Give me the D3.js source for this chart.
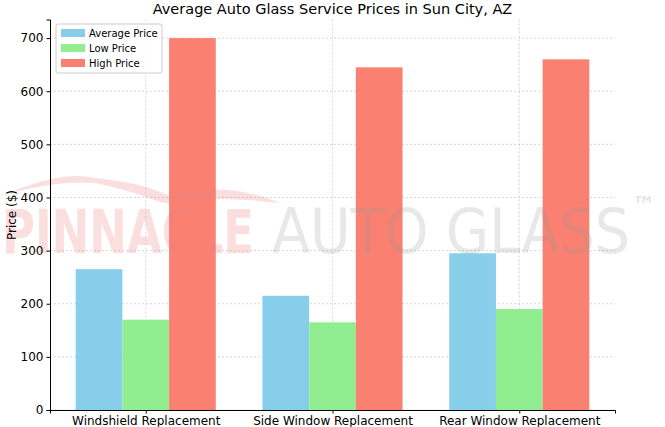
<!DOCTYPE html>
<html>
<head>
<meta charset="utf-8">
<script src="https://cdn.jsdelivr.net/npm/d3@7"></script>
<style>
  body { margin: 0; background: #fff; }
  text { font-family: "DejaVu Sans", sans-serif; }
</style>
</head>
<body>
<div id="chart"></div>
<script>
// chart data
const services = ["Windshield Replacement", "Side Window Replacement", "Rear Window Replacement"];
const avgPrice = [265, 215, 295];
const lowPrice = [170, 165, 190];
const highPrice = [700, 645, 660];
const yTicks = [0, 100, 200, 300, 400, 500, 600, 700];

const series = [
    {name: "Average Price", values: avgPrice, color: "#87ceeb"},
    {name: "Low Price", values: lowPrice, color: "#90ee90"},
    {name: "High Price", values: highPrice, color: "#fa8072"}
];

const W = 665, H = 427;
const margin = {top: 19.5, right: 50, bottom: 17, left: 50};

const svg = d3.select("#chart").append("svg")
    .attr("width", W).attr("height", H);

const x = d3.scaleLinear().domain([-0.5125, 2.5125]).range([margin.left, W - margin.right]);
const y = d3.scaleLinear().domain([0, 735]).range([H - margin.bottom, margin.top]);
const bw = 0.25;

// grid
svg.append("g").selectAll("line.h").data(yTicks).join("line")
    .attr("x1", margin.left).attr("x2", W - margin.right)
    .attr("y1", d => y(d)).attr("y2", d => y(d))
    .attr("stroke", "#ccc").attr("stroke-width", 0.8).attr("stroke-dasharray", "2,2");
svg.append("g").selectAll("line.v").data(services).join("line")
    .attr("x1", (d, i) => x(i)).attr("x2", (d, i) => x(i))
    .attr("y1", margin.top).attr("y2", H - margin.bottom)
    .attr("stroke", "#ccc").attr("stroke-width", 0.8).attr("stroke-dasharray", "2,2");

// bars
series.forEach((s, k) => {
    svg.append("g").selectAll("rect").data(s.values).join("rect")
        .attr("x", (d, i) => x(i + (k - 1.5) * bw))
        .attr("width", x(bw) - x(0))
        .attr("y", d => y(d))
        .attr("height", d => y(0) - y(d))
        .attr("fill", s.color);
});

// watermark
const wm = svg.append("g").attr("pointer-events", "none");
wm.append("path")
    .attr("d", "M5,195 Q60,170 95,178 Q140,182 170,196 Q190,188 230,190 Q260,194 280,203 Q230,197 195,200 Q170,205 160,202 Q130,190 95,183 Q55,180 5,195 Z")
    .attr("fill", "#e88080").attr("opacity", 0.25);
wm.append("text").attr("x", 2).attr("y", 253)
    .attr("font-size", 60).attr("font-weight", "bold")
    .attr("textLength", 252).attr("lengthAdjust", "spacingAndGlyphs")
    .attr("fill", "#f08080").attr("opacity", 0.25).text("PINNACLE");
wm.append("text").attr("x", 272).attr("y", 253)
    .attr("font-size", 62).attr("textLength", 358).attr("lengthAdjust", "spacingAndGlyphs")
    .attr("font-family", "Liberation Sans, sans-serif")
    .attr("fill", "#999").attr("opacity", 0.22).text("AUTO GLASS");
wm.append("text").attr("x", 632).attr("y", 214)
    .attr("font-size", 24).attr("fill", "#999").attr("opacity", 0.3).text("™");

// axes
const yAxis = svg.append("g").attr("transform", `translate(${margin.left},0)`)
    .call(d3.axisLeft(y).tickValues(yTicks).tickSize(3.5));
const xAxis = svg.append("g").attr("transform", `translate(0,${H - margin.bottom})`)
    .call(d3.axisBottom(x).tickValues([0, 1, 2]).tickFormat(i => services[i]).tickSize(3.5));
[xAxis, yAxis].forEach(a => {
    a.selectAll("text").attr("font-size", 12).attr("fill", "#000");
    a.select(".domain").attr("stroke", "#000");
});

svg.append("text").attr("transform", `translate(16,${y(367)}) rotate(-90)`)
    .attr("text-anchor", "middle").attr("font-size", 12).text("Price ($)");

svg.append("text").attr("x", (margin.left + W - margin.right) / 2).attr("y", 14)
    .attr("text-anchor", "middle").attr("font-size", 14.5).text("Average Auto Glass Service Prices in Sun City, AZ");

// legend
const lg = svg.append("g").attr("transform", "translate(56,24)");
lg.append("rect").attr("width", 106).attr("height", 49).attr("rx", 2)
    .attr("fill", "#fff").attr("fill-opacity", 0.8).attr("stroke", "#ccc");
series.forEach((s, k) => {
    lg.append("rect").attr("x", 5).attr("y", 5 + k * 15).attr("width", 24).attr("height", 8).attr("fill", s.color);
    lg.append("text").attr("x", 33).attr("y", 13 + k * 15).attr("font-size", 10).text(s.name);
});
</script>
</body>
</html>
